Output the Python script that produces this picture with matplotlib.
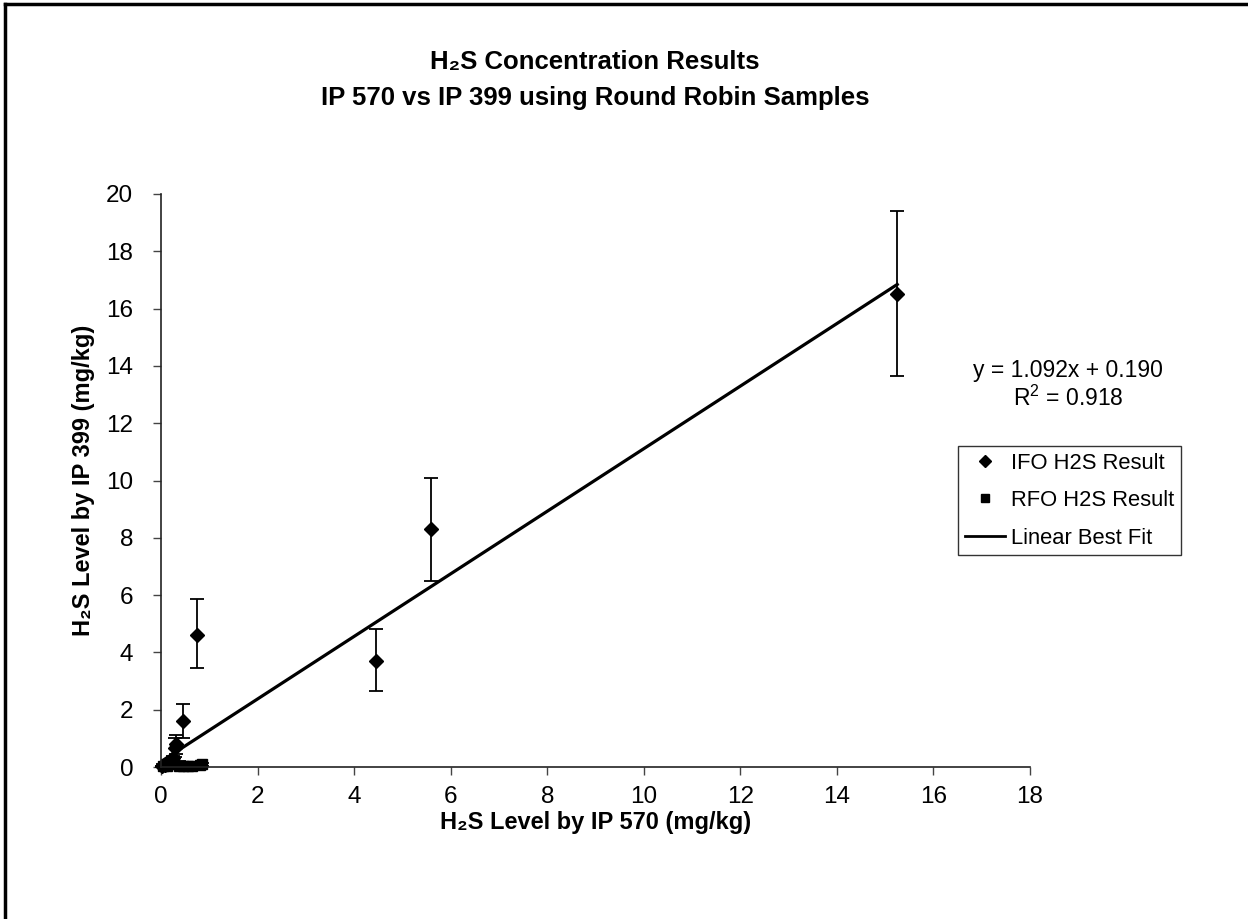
import matplotlib.pyplot as plt
from matplotlib.lines import Line2D
import numpy as np

plt.rcParams['font.family'] = ['Liberation Sans', 'DejaVu Sans']
plt.rcParams['mathtext.fontset'] = 'custom'
plt.rcParams['mathtext.rm'] = 'Liberation Sans'

# IFO results: x by IP 570, y by IP 399, error bar bounds
ifo_x = [15.25, 5.6, 4.45, 0.75, 0.46, 0.32, 0.30, 0.25, 0.15, 0.08, 0.03]
ifo_y = [16.5, 8.3, 3.7, 4.6, 1.62, 0.80, 0.65, 0.30, 0.15, 0.08, 0.03]
ifo_lo = [13.65, 6.5, 2.65, 3.45, 1.0, 0.45, 0.35, 0.2, 0.1, 0.05, 0.0]
ifo_hi = [19.4, 10.1, 4.8, 5.85, 2.2, 1.12, 1.0, 0.4, 0.2, 0.1, 0.05]

# RFO results
rfo_x = [0.05, 0.12, 0.20, 0.38, 0.45, 0.55, 0.65, 0.80, 0.85]
rfo_y = [0.05, 0.05, 0.10, 0.05, 0.05, 0.03, 0.05, 0.08, 0.10]
rfo_lo = [0.0, 0.0, 0.05, 0.0, 0.0, 0.0, 0.0, 0.03, 0.05]
rfo_hi = [0.1, 0.1, 0.18, 0.2, 0.1, 0.06, 0.1, 0.13, 0.15]

slope = 1.092
intercept = 0.190
r2 = 0.918

x_ticks = [0, 2, 4, 6, 8, 10, 12, 14, 16, 18]
y_ticks = [0, 2, 4, 6, 8, 10, 12, 14, 16, 18, 20]

fig = plt.figure(figsize=(12.48, 9.19), dpi=100)
ax = fig.add_axes([161/1248, 1-767/919, (1030-161)/1248, (767-194)/919])

ifo_x = np.array(ifo_x); ifo_y = np.array(ifo_y)
rfo_x = np.array(rfo_x); rfo_y = np.array(rfo_y)
ifo_err = [ifo_y - np.array(ifo_lo), np.array(ifo_hi) - ifo_y]
rfo_err = [rfo_y - np.array(rfo_lo), np.array(rfo_hi) - rfo_y]

ax.errorbar(ifo_x, ifo_y, yerr=ifo_err, fmt='D', color='black', ms=7,
            ecolor='black', elinewidth=1.3, capsize=5, capthick=1.3, clip_on=False)
ax.errorbar(rfo_x, rfo_y, yerr=rfo_err, fmt='s', color='black', ms=7,
            ecolor='black', elinewidth=1.3, capsize=5, capthick=1.3, clip_on=False)

fit_x = np.array([0, ifo_x.max()])
ax.plot(fit_x, slope * fit_x + intercept, color='black', lw=2.3)

ax.set_xlim(0, 18)
ax.set_ylim(0, 20)
ax.set_xticks(x_ticks)
ax.set_yticks(y_ticks)
ax.tick_params(labelsize=17.5, length=6, width=1, color='#444444')
ax.tick_params(axis='x', pad=8)
ax.tick_params(axis='y', pad=14)
for s in ['top', 'right']:
    ax.spines[s].set_visible(False)
for s in ['left', 'bottom']:
    ax.spines[s].set_color('#222222')
    ax.spines[s].set_linewidth(1.2)

ax.set_xlabel('H\u2082S Level by IP 570 (mg/kg)', fontsize=17, fontweight='bold', labelpad=2)
ax.set_ylabel('H\u2082S Level by IP 399 (mg/kg)', fontsize=17, fontweight='bold', labelpad=8)

fig.text(595/1248, 1-62/919, 'H\u2082S Concentration Results', ha='center', va='center',
         fontsize=18.5, fontweight='bold')
fig.text(595/1248, 1-98/919, 'IP 570 vs IP 399 using Round Robin Samples', ha='center',
         va='center', fontsize=18.5, fontweight='bold')

fig.text(1068/1248, 1-370/919, 'y = %.3fx + %.3f' % (slope, intercept), ha='center',
         va='center', fontsize=16.5)
fig.text(1068/1248, 1-398/919, 'R$^2$ = %.3f' % r2, ha='center', va='center', fontsize=16.5)

handles = [Line2D([], [], marker='D', color='black', ls='none', ms=6),
           Line2D([], [], marker='s', color='black', ls='none', ms=6),
           Line2D([], [], color='black', lw=2)]
leg = fig.legend(handles, ['IFO H2S Result', 'RFO H2S Result', 'Linear Best Fit'],
                 loc='upper left', bbox_to_anchor=(958/1248, 1-446/919),
                 fontsize=15.8, frameon=True, fancybox=False, handlelength=1.85,
                 handletextpad=0.25, borderpad=0.3, labelspacing=0.75, borderaxespad=0)
leg.get_frame().set_edgecolor('black')
leg.get_frame().set_linewidth(1)

# outer chart frame
fig.add_artist(Line2D([5/1248, 5/1248], [0, 1-4/919], color='black', lw=2.5))
fig.add_artist(Line2D([5/1248, 1], [1-4/919, 1-4/919], color='black', lw=2.5))

fig.savefig('out.png', dpi=100)
